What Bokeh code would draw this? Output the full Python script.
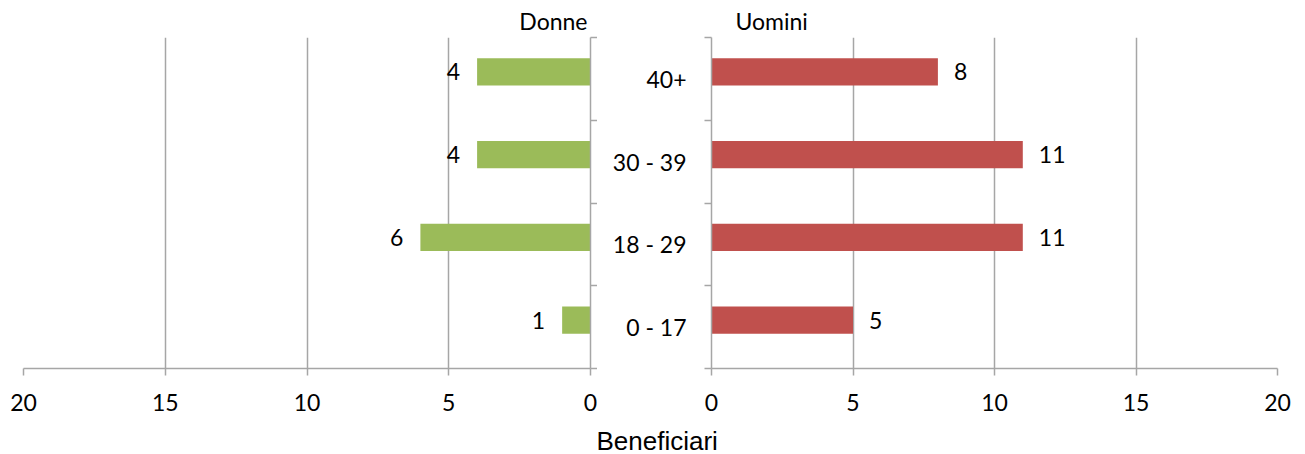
from bokeh.plotting import figure
from bokeh.layouts import row
from bokeh.models import (Range1d, FixedTicker, ColumnDataSource, LabelSet, Title)
from bokeh.core.properties import value
from bokeh.transform import dodge
from bokeh.embed import file_html
from bokeh.resources import INLINE

# ---- data ----
categories = ["0 - 17", "18 - 29", "30 - 39", "40+"]
donne = [1, 6, 4, 4]
uomini = [5, 11, 11, 8]
x_ticks = [0, 5, 10, 15, 20]
panel_titles = ["Donne", "Uomini"]
axis_title = "Beneficiari"

GREEN = "#9BBB59"
RED = "#C0504D"
GRID = "#A6A6A6"
FONT = "Lato"
FS = "23px"

pos = [i + 0.5 for i in range(len(categories))]
bounds = list(range(len(categories) + 1))
src_d = ColumnDataSource(dict(y=pos, v=donne, lab=[str(v) for v in donne]))
src_u = ColumnDataSource(dict(y=pos, v=uomini, lab=[str(v) for v in uomini]))
BAR_SHIFT = 0.085
BAR_H = 0.33


def style(p, yticks):
    p.outline_line_color = None
    p.ygrid.grid_line_color = None
    p.xgrid.grid_line_color = GRID
    p.xgrid.grid_line_width = 1.5
    p.xgrid.ticker = FixedTicker(ticks=x_ticks)
    xa = p.xaxis[0]
    xa.ticker = FixedTicker(ticks=x_ticks)
    xa.axis_line_color = GRID
    xa.axis_line_width = 1.5
    xa.major_tick_line_color = GRID
    xa.major_tick_line_width = 1.5
    xa.major_tick_out = 7
    xa.major_tick_in = 0
    xa.minor_tick_line_color = None
    xa.major_label_text_font = FONT
    xa.major_label_text_font_size = FS
    xa.major_label_text_color = "black"
    xa.major_label_standoff = 18
    ya = p.yaxis[0]
    ya.ticker = FixedTicker(ticks=yticks, minor_ticks=bounds)
    ya.axis_line_color = GRID
    ya.axis_line_width = 1.5
    ya.major_tick_line_color = None
    ya.major_tick_out = 0
    ya.major_tick_in = 0
    ya.minor_tick_line_color = GRID
    ya.minor_tick_line_width = 1.5
    ya.minor_tick_out = 7
    ya.minor_tick_in = 0
    ya.major_label_text_font = FONT
    ya.major_label_text_font_size = FS
    ya.major_label_text_color = "black"


common = dict(frame_height=331, output_backend="svg", toolbar_location=None,
              min_border_top=37, min_border_bottom=84, background_fill_color="white")

# ---- left panel (Donne) ----
left = figure(x_range=Range1d(20, 0), y_range=Range1d(0, len(categories)),
              frame_width=567, y_axis_location="right",
              min_border_left=23, min_border_right=7, **common)
style(left, [])
left.hbar(y=dodge("y", BAR_SHIFT), right="v", left=0, height=BAR_H, source=src_d,
          fill_color=GREEN, line_color=None)
left.add_layout(LabelSet(x="v", y=dodge("y", BAR_SHIFT), text="lab", source=src_d,
                         x_offset=-17, text_align="right", text_baseline="middle",
                         text_font=value(FONT), text_font_size=value(FS),
                         text_color="black"))
t1 = Title(text=panel_titles[0], align="right", offset=3, text_font=FONT,
           text_font_size=FS, text_font_style="normal", text_color="black", standoff=5)
left.add_layout(t1, "above")

# ---- right panel (Uomini) ----
right = figure(x_range=Range1d(0, 20), y_range=Range1d(0, len(categories)),
               frame_width=566, y_axis_location="left",
               min_border_left=114, min_border_right=20, **common)
style(right, pos)
right.yaxis[0].major_label_overrides = {p: c for p, c in zip(pos, categories)}
right.yaxis[0].major_label_standoff = 18
right.hbar(y=dodge("y", BAR_SHIFT), right="v", left=0, height=BAR_H, source=src_u,
           fill_color=RED, line_color=None)
right.add_layout(LabelSet(x="v", y=dodge("y", BAR_SHIFT), text="lab", source=src_u,
                          x_offset=16, text_align="left", text_baseline="middle",
                          text_font=value(FONT), text_font_size=value(FS),
                          text_color="black"))
t2 = Title(text=panel_titles[1], align="left", offset=24, text_font=FONT,
           text_font_size=FS, text_font_style="normal", text_color="black", standoff=5)
right.add_layout(t2, "above")
t3 = Title(text=axis_title, align="left", offset=-115, text_font="Liberation Sans",
           text_font_size="26px", text_font_style="normal", text_color="black",
           standoff=20)
right.add_layout(t3, "below")

layout = row(left, right)
open("out.html", "w").write(file_html(layout, INLINE))
